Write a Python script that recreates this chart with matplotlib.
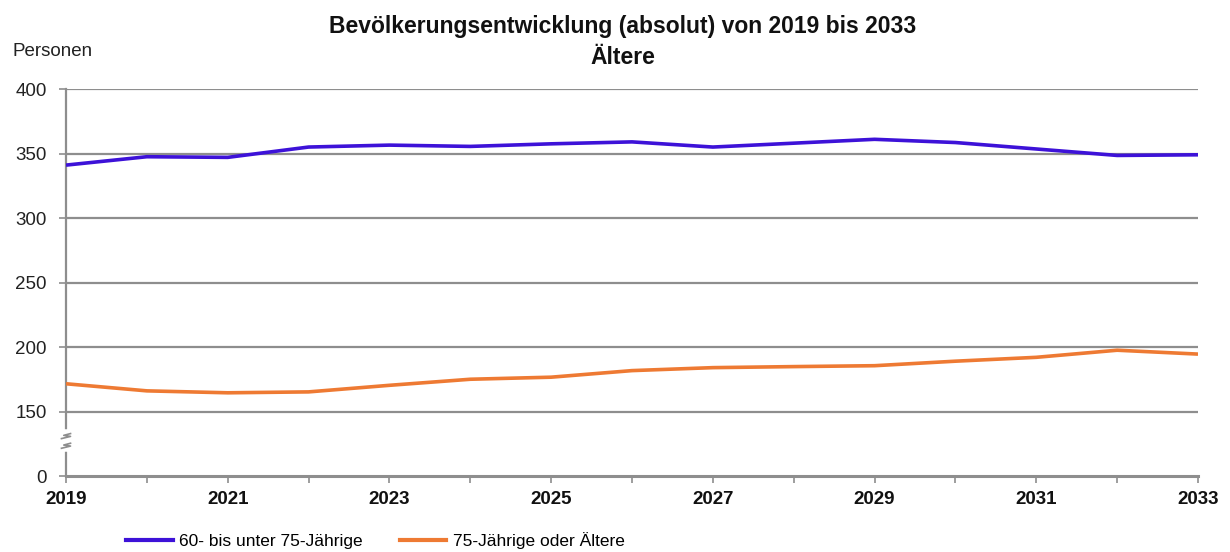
import matplotlib
matplotlib.use("Agg")
import matplotlib.pyplot as plt
from matplotlib.lines import Line2D

years = list(range(2019, 2034))
aged_60_75 = [341, 347.5, 347, 355, 356.5, 355.5, 357.5, 359, 355, 358, 361, 358.5, 353.5, 348.5, 349]
aged_75_plus = [171.5, 166, 164.5, 165.2, 170.3, 175, 176.6, 181.7, 184, 184.8, 185.5, 189, 192, 197.5, 194.5]
series_labels = ["60- bis unter 75-Jährige", "75-Jährige oder Ältere"]
ytick_values = [100, 150, 200, 250, 300, 350, 400]   # 100 is the position of the broken-axis "0"
ytick_labels = ["0", "150", "200", "250", "300", "350", "400"]

plt.rcParams['font.family'] = ['Liberation Sans', 'DejaVu Sans']

fig = plt.figure(figsize=(12.3, 5.52), dpi=100)
ax = fig.add_axes([66/1230, 1-476/552, (1198-66)/1230, (476-89)/552])

blue = '#3d12d8'
orange = '#ee7a33'
grid_c = '#8e8e8e'

for v in ytick_values[1:]:
    ax.axhline(v, color=grid_c, lw=1.6, zorder=1)

ax.plot(years, aged_60_75, color=blue, lw=2.6, zorder=3, solid_capstyle='butt')
ax.plot(years, aged_75_plus, color=orange, lw=2.6, zorder=3, solid_capstyle='butt')

ax.set_xlim(years[0], years[-1])
ax.set_ylim(100, 400)
ax.set_yticks(ytick_values)
ax.set_yticklabels(ytick_labels, fontsize=13.5, color='#222222')
ax.set_xticks(years)
ax.set_xticklabels([str(y) if (y - years[0]) % 2 == 0 else '' for y in years],
                   fontsize=13.5, fontweight='bold', color='#111111')
ax.tick_params(axis='y', length=5, width=1.2, color=grid_c, pad=9)
ax.tick_params(axis='x', length=5, width=1.2, color=grid_c, pad=6)

for s in ['top', 'right']:
    ax.spines[s].set_visible(False)
ax.spines['left'].set_color(grid_c)
ax.spines['left'].set_linewidth(1.6)
ax.spines['bottom'].set_color(grid_c)
ax.spines['bottom'].set_linewidth(2.2)
ax.spines['bottom'].set_zorder(2)

# axis break marker on the y axis
tr = ax.get_yaxis_transform()
ax.plot([0, 0], [121, 134], color='white', lw=4, transform=tr, clip_on=False, zorder=4)
for yc in (123, 130.5):
    ax.plot([-0.004, 0.004, -0.002, 0.004], [yc - 1.5, yc + 0.2, yc + 1.0, yc + 2.4],
            color=grid_c, lw=1.2, transform=tr, clip_on=False, zorder=5)

fig.text(0.506, 1 - 27/552, "Bevölkerungsentwicklung (absolut) von 2019 bis 2033",
         ha='center', va='center', fontsize=16.5, fontweight='bold', color='#111111')
fig.text(0.506, 1 - 57/552, "Ältere", ha='center', va='center',
         fontsize=16.5, fontweight='bold', color='#111111')
fig.text(12/1230, 1 - 52/552, "Personen", ha='left', va='center', fontsize=13.5, color='#222222')

handles = [Line2D([], [], color=blue, lw=3), Line2D([], [], color=orange, lw=3)]
fig.legend(handles, series_labels, loc='center left', bbox_to_anchor=(110/1230, 1 - 541/552),
           ncol=2, frameon=False, fontsize=12.5, handlelength=2.7, columnspacing=2.1,
           handletextpad=0.4)

fig.savefig("out.png", dpi=100)
